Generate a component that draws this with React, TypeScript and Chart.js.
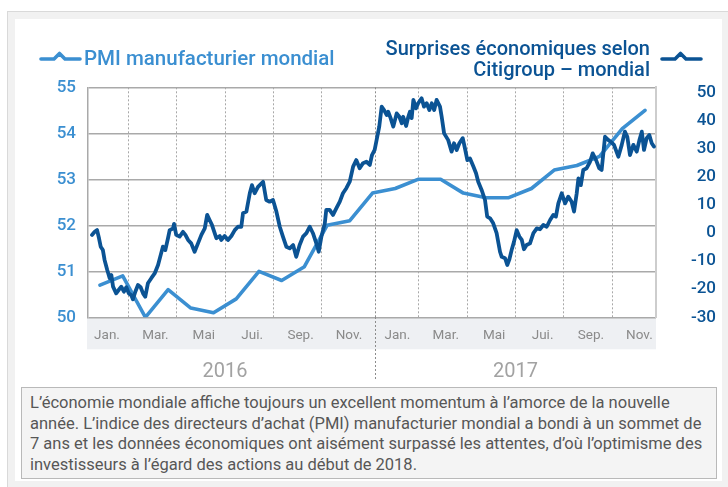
import { useEffect, useRef } from 'react';
import { Chart, registerables } from 'chart.js';

Chart.register(...registerables);

// ---------- data ----------
const MONTH_LABELS = ['Jan.', 'Mar.', 'Mai', 'Jui.', 'Sep.', 'Nov.', 'Jan.', 'Mar.', 'Mai', 'Jui.', 'Sep.', 'Nov.'];
const YEAR_LABELS = ['2016', '2017'];
const LEFT_TICKS = [50, 51, 52, 53, 54, 55];
const RIGHT_TICKS = [-30, -20, -10, 0, 10, 20, 30, 40, 50];

// Global manufacturing PMI, monthly, Dec 2015 -> Dec 2017
const PMI_VALUES = [
  50.7, 50.9, 50.0, 50.6, 50.2, 50.1, 50.4, 51.0, 50.8, 51.1, 52.0, 52.1, 52.7,
  52.8, 53.0, 53.0, 52.7, 52.6, 52.6, 52.8, 53.2, 53.3, 53.5, 54.1, 54.5,
];

// Citi economic surprise index (global): time in months since 1 Jan 2016
const CITI_T = [
  0.50, 0.61, 0.71, 0.79, 0.86, 0.95, 1.02, 1.13, 1.23, 1.30,
  1.37, 1.50, 1.60, 1.71, 1.82, 1.92, 2.02, 2.12, 2.19, 2.29,
  2.40, 2.51, 2.61, 2.70, 2.81, 2.95, 3.09, 3.23, 3.34, 3.43,
  3.53, 3.64, 3.71, 3.85, 3.89, 3.98, 4.12, 4.26, 4.36, 4.47,
  4.60, 4.74, 4.88, 5.02, 5.16, 5.26, 5.36, 5.46, 5.57, 5.64,
  5.78, 5.84, 5.98, 6.12, 6.26, 6.40, 6.53, 6.67, 6.74, 6.88,
  7.02, 7.11, 7.22, 7.36, 7.57, 7.70, 7.84, 7.98, 8.12, 8.26,
  8.39, 8.53, 8.67, 8.81, 8.94, 9.08, 9.22, 9.36, 9.50, 9.63,
  9.77, 9.87, 9.98, 10.12, 10.18, 10.32, 10.46, 10.60, 10.74, 10.87,
  11.01, 11.15, 11.29, 11.42, 11.56, 11.70, 11.84, 11.98, 12.07, 12.18,
  12.26, 12.37, 12.47, 12.57, 12.68, 12.74, 12.84, 12.95, 13.09, 13.20,
  13.30, 13.36, 13.48, 13.57, 13.64, 13.71, 13.78, 13.89, 13.98, 14.12,
  14.22, 14.33, 14.44, 14.54, 14.64, 14.74, 14.88, 14.95, 15.05, 15.22,
  15.36, 15.46, 15.57, 15.68, 15.82, 15.91, 16.01, 16.12, 16.26, 16.37,
  16.46, 16.60, 16.74, 16.83, 16.95, 17.08, 17.22, 17.36, 17.43, 17.57,
  17.66, 17.74, 17.84, 17.94, 18.05, 18.16, 18.26, 18.35, 18.46, 18.60,
  18.74, 18.88, 19.01, 19.15, 19.29, 19.43, 19.56, 19.67, 19.77, 19.91,
  20.05, 20.18, 20.32, 20.42, 20.53, 20.60, 20.70, 20.80, 20.94, 21.08,
  21.19, 21.33, 21.46, 21.56, 21.70, 21.84, 21.94, 22.07, 22.25, 22.39,
  22.52, 22.62, 22.73, 22.87, 23.01, 23.12, 23.22, 23.31, 23.42, 23.53,
  23.63, 23.72,
];
const CITI_V = [
  -0.7, 0.4, 1.0, -1.9, -4.9, -6.1, -9.6, -13.2, -16.1, -15.0,
  -19.1, -21.5, -20.3, -19.1, -20.9, -19.3, -21.5, -22.1, -23.6, -20.9,
  -18.5, -19.3, -21.5, -22.7, -17.9, -16.1, -14.4, -11.4, -7.8, -4.9,
  -6.1, -1.9, 1.0, 1.6, 3.2, -0.7, -1.3, 0.4, -0.7, -2.5,
  -3.7, -6.7, -3.7, -0.7, 1.6, 6.4, 4.6, 2.8, -0.1, -1.9,
  -1.1, -2.5, -1.1, -2.5, -1.1, 1.0, 2.2, 2.2, 7.0, 7.6,
  14.1, 17.0, 14.1, 16.4, 18.2, 11.7, 11.1, 11.7, 7.6, 2.2,
  -1.3, -4.9, -5.5, -4.3, -8.5, -4.3, -1.3, -0.1, 2.2, -0.1,
  -3.7, -6.7, -1.3, 3.4, 8.2, 8.2, 6.4, 8.8, 11.1, 14.1,
  15.9, 18.2, 23.6, 25.9, 23.0, 24.8, 25.3, 24.2, 27.7, 29.5,
  33.0, 37.8, 44.9, 43.7, 41.9, 43.1, 40.8, 37.8, 42.5, 41.3,
  39.0, 41.3, 38.0, 41.3, 43.1, 40.8, 47.3, 44.3, 46.1, 47.9,
  44.9, 46.1, 43.7, 46.1, 43.7, 47.3, 44.9, 41.3, 35.4, 33.0,
  28.9, 31.9, 29.5, 31.9, 33.7, 30.1, 25.9, 26.5, 23.6, 21.2,
  18.2, 15.3, 11.7, 5.8, 5.2, 3.4, -0.1, -6.7, -8.5, -9.0,
  -11.4, -9.6, -6.1, -3.1, 1.0, -1.3, -2.5, -5.8, -4.3, -3.7,
  -0.1, 1.6, 1.3, 2.8, 2.2, 4.6, 6.4, 5.8, 10.5, 14.1,
  10.5, 12.9, 11.1, 7.6, 14.1, 19.4, 17.0, 22.4, 23.0, 25.3,
  28.3, 25.9, 23.0, 22.4, 34.2, 33.0, 32.4, 31.3, 27.1, 31.3,
  36.0, 34.2, 27.7, 31.3, 28.9, 33.0, 36.0, 29.5, 33.7, 34.8,
  31.9, 30.7,
];

// ---------- style ----------
const FONT = 'Roboto, "Open Sans", "DejaVu Sans", sans-serif';
const LIGHT = '#3b8fd1';
const DARK = '#0b5394';
const GRID = '#a9a9a9';

const X_MIN = 0.335;
const X_MAX = 23.806;
const LABEL_SHIFT = 1.12; // month labels sit slightly right of month start
const YEAR_DIVIDER = 12.2;
const PMI_MIN = -0.528;
const PMI_MAX = 24.484;

const isDivider = (c: any) => !!c.tick && Math.abs(c.tick.value - YEAR_DIVIDER) < 0.01;

const bandPlugin = {
  id: 'labelBand',
  beforeDraw(chart: any) {
    const s = chart.scales.x;
    const ctx = chart.ctx;
    ctx.save();
    ctx.fillStyle = '#eef0f3';
    ctx.fillRect(s.left - 1, s.top, s.right - s.left + 1, s.bottom - s.top);
    ctx.restore();
  },
};

function Marker({ color }: { color: string }) {
  return (
    <svg width={44} height={14} style={{ display: 'block' }}>
      <path d="M2 8 H15 L20.5 2.5 L26 8 H41" fill="none" stroke={color} strokeWidth={3.6}
        strokeLinecap="round" strokeLinejoin="round" />
    </svg>
  );
}

export default function App() {
  const ref = useRef<HTMLCanvasElement>(null);

  useEffect(() => {
    const canvas = ref.current!;
    const citiData = CITI_T.map((t, i) => ({ x: t, y: CITI_V[i] }));
    const pmiData = PMI_VALUES.map((v, i) => ({ x: i, y: v }));
    const gridPositions: number[] = [];
    for (let m = 2; m < 24; m += 2) gridPositions.push(m === 12 ? YEAR_DIVIDER : m);

    const chart = new Chart(canvas, {
      type: 'line',
      data: {
        datasets: [
          {
            label: 'Surprises économiques selon Citigroup – mondial',
            data: citiData,
            xAxisID: 'x',
            yAxisID: 'yR',
            borderColor: DARK,
            borderWidth: 3.8,
            pointRadius: 0,
            tension: 0,
            borderJoinStyle: 'round',
            borderCapStyle: 'round',
          },
          {
            label: 'PMI manufacturier mondial',
            data: pmiData,
            xAxisID: 'xp',
            yAxisID: 'yL',
            borderColor: LIGHT,
            borderWidth: 3.6,
            pointRadius: 0,
            tension: 0,
            borderJoinStyle: 'round',
            borderCapStyle: 'round',
          },
        ],
      },
      options: {
        responsive: false,
        animation: false,
        devicePixelRatio: 1,
        layout: { padding: { top: 87.3, left: 38, right: 12, bottom: 0.7 } },
        plugins: { legend: { display: false }, tooltip: { enabled: false } },
        scales: {
          yL: {
            axis: 'y',
            type: 'linear',
            position: 'left',
            min: 50,
            max: 55,
            afterBuildTicks: (s: any) => { s.ticks = LEFT_TICKS.map((v) => ({ value: v })); },
            afterFit: (s: any) => { s.width = 50; },
            ticks: { color: LIGHT, font: { family: FONT, size: 17, weight: '500' }, padding: 12 },
            grid: { color: GRID, lineWidth: 1.5, drawTicks: false },
            border: { display: true, color: GRID, width: 1.5 },
          },
          yR: {
            axis: 'y',
            type: 'linear',
            position: 'right',
            min: -30,
            max: 51.78,
            afterBuildTicks: (s: any) => { s.ticks = RIGHT_TICKS.map((v) => ({ value: v })); },
            afterFit: (s: any) => { s.width = 60; },
            ticks: { color: DARK, font: { family: FONT, size: 17, weight: '500' }, padding: 7, crossAlign: 'far' },
            grid: { display: false, drawTicks: false },
            border: { display: true, color: '#cdcdcd', width: 2 },
          },
          xd: {
            axis: 'x',
            type: 'linear',
            position: 'bottom',
            weight: 0,
            min: X_MIN,
            max: X_MAX,
            afterBuildTicks: (s: any) => { s.ticks = gridPositions.map((v) => ({ value: v })); },
            afterFit: (s: any) => { s.height = 0; },
            ticks: { display: false },
            grid: {
              color: (c: any) => (isDivider(c) ? '#8c8c8c' : '#a8a8a8'),
              lineWidth: 1,
              drawTicks: true,
              tickLength: 63,
              tickColor: (c: any) => (isDivider(c) ? '#8c8c8c' : 'rgba(0,0,0,0)'),
              tickWidth: 1,
              tickBorderDash: [2, 2],
            },
            border: { display: false, dash: [2, 2] },
          },
          x: {
            axis: 'x',
            type: 'linear',
            position: 'bottom',
            weight: 1,
            min: X_MIN,
            max: X_MAX,
            afterBuildTicks: (s: any) => {
              s.ticks = MONTH_LABELS.map((_, i) => ({ value: LABEL_SHIFT + 2 * i }));
            },
            afterFit: (s: any) => { s.height = 32; },
            ticks: {
              color: '#8a8a8a',
              font: { family: FONT, size: 13.5 },
              padding: 10.5,
              autoSkip: false,
              maxRotation: 0,
              minRotation: 0,
              callback: (_v: any, i: number) => MONTH_LABELS[i],
            },
            grid: { display: false, drawTicks: false },
            border: { display: false },
          },
          xy: {
            axis: 'x',
            type: 'linear',
            position: 'bottom',
            weight: 2,
            min: X_MIN,
            max: X_MAX,
            afterBuildTicks: (s: any) => { s.ticks = YEAR_LABELS.map((_, i) => ({ value: 6 + 12 * i })); },
            afterFit: (s: any) => { s.height = 40; },
            ticks: {
              color: '#a2a2a2',
              font: { family: FONT, size: 20 },
              padding: 11,
              autoSkip: false,
              maxRotation: 0,
              minRotation: 0,
              callback: (_v: any, i: number) => YEAR_LABELS[i],
            },
            grid: { display: false, drawTicks: false },
            border: { display: false },
          },
          xp: {
            axis: 'x',
            type: 'linear',
            display: false,
            min: PMI_MIN,
            max: PMI_MAX,
          },
        },
      } as any,
      plugins: [bandPlugin],
    });
    return () => chart.destroy();
  }, []);

  return (
    <div style={{ position: 'absolute', left: 0, top: 0, width: 728, height: 487, overflow: 'hidden', fontFamily: FONT }}>
      <div style={{
        position: 'absolute', left: 7, top: 11, width: 740, height: 490,
        background: '#f1f1f1', border: '1px solid #d9d9d9', boxSizing: 'border-box',
      }} />
      <div style={{ position: 'absolute', left: 15, top: 19, width: 707, height: 462, background: '#ffffff' }} />
      <canvas ref={ref} width={728} height={390} style={{ position: 'absolute', left: 0, top: 0, width: 728, height: 390 }} />

      <div style={{ position: 'absolute', left: 39, top: 51 }}><Marker color={LIGHT} /></div>
      <div style={{
        position: 'absolute', left: 84, top: 48.2, fontSize: 20.5, lineHeight: '20px', fontWeight: 500,
        color: LIGHT, whiteSpace: 'nowrap',
      }}>PMI manufacturier mondial</div>

      <div style={{
        position: 'absolute', left: 350, top: 37.7, width: 300, textAlign: 'right', fontSize: 20,
        lineHeight: '21px', fontWeight: 500, color: DARK, whiteSpace: 'nowrap',
      }}>
        Surprises économiques selon<br />Citigroup – mondial
      </div>
      <div style={{ position: 'absolute', left: 660, top: 51 }}><Marker color={DARK} /></div>

      <div style={{
        position: 'absolute', left: 21, top: 387, width: 696, height: 92, boxSizing: 'border-box',
        background: '#f4f4f4', border: '1px solid #b9b9b9', padding: '5px 0 0 8px',
        fontSize: 16.5, lineHeight: '20.7px', color: '#575757', whiteSpace: 'nowrap',
      }}>
        L’économie mondiale affiche toujours un excellent momentum à l’amorce de la nouvelle<br />
        année. L’indice des directeurs d’achat (PMI) manufacturier mondial a bondi à un sommet de<br />
        7 ans et les données économiques ont aisément surpassé les attentes, d’où l’optimisme des<br />
        investisseurs à l’égard des actions au début de 2018.
      </div>
    </div>
  );
}
